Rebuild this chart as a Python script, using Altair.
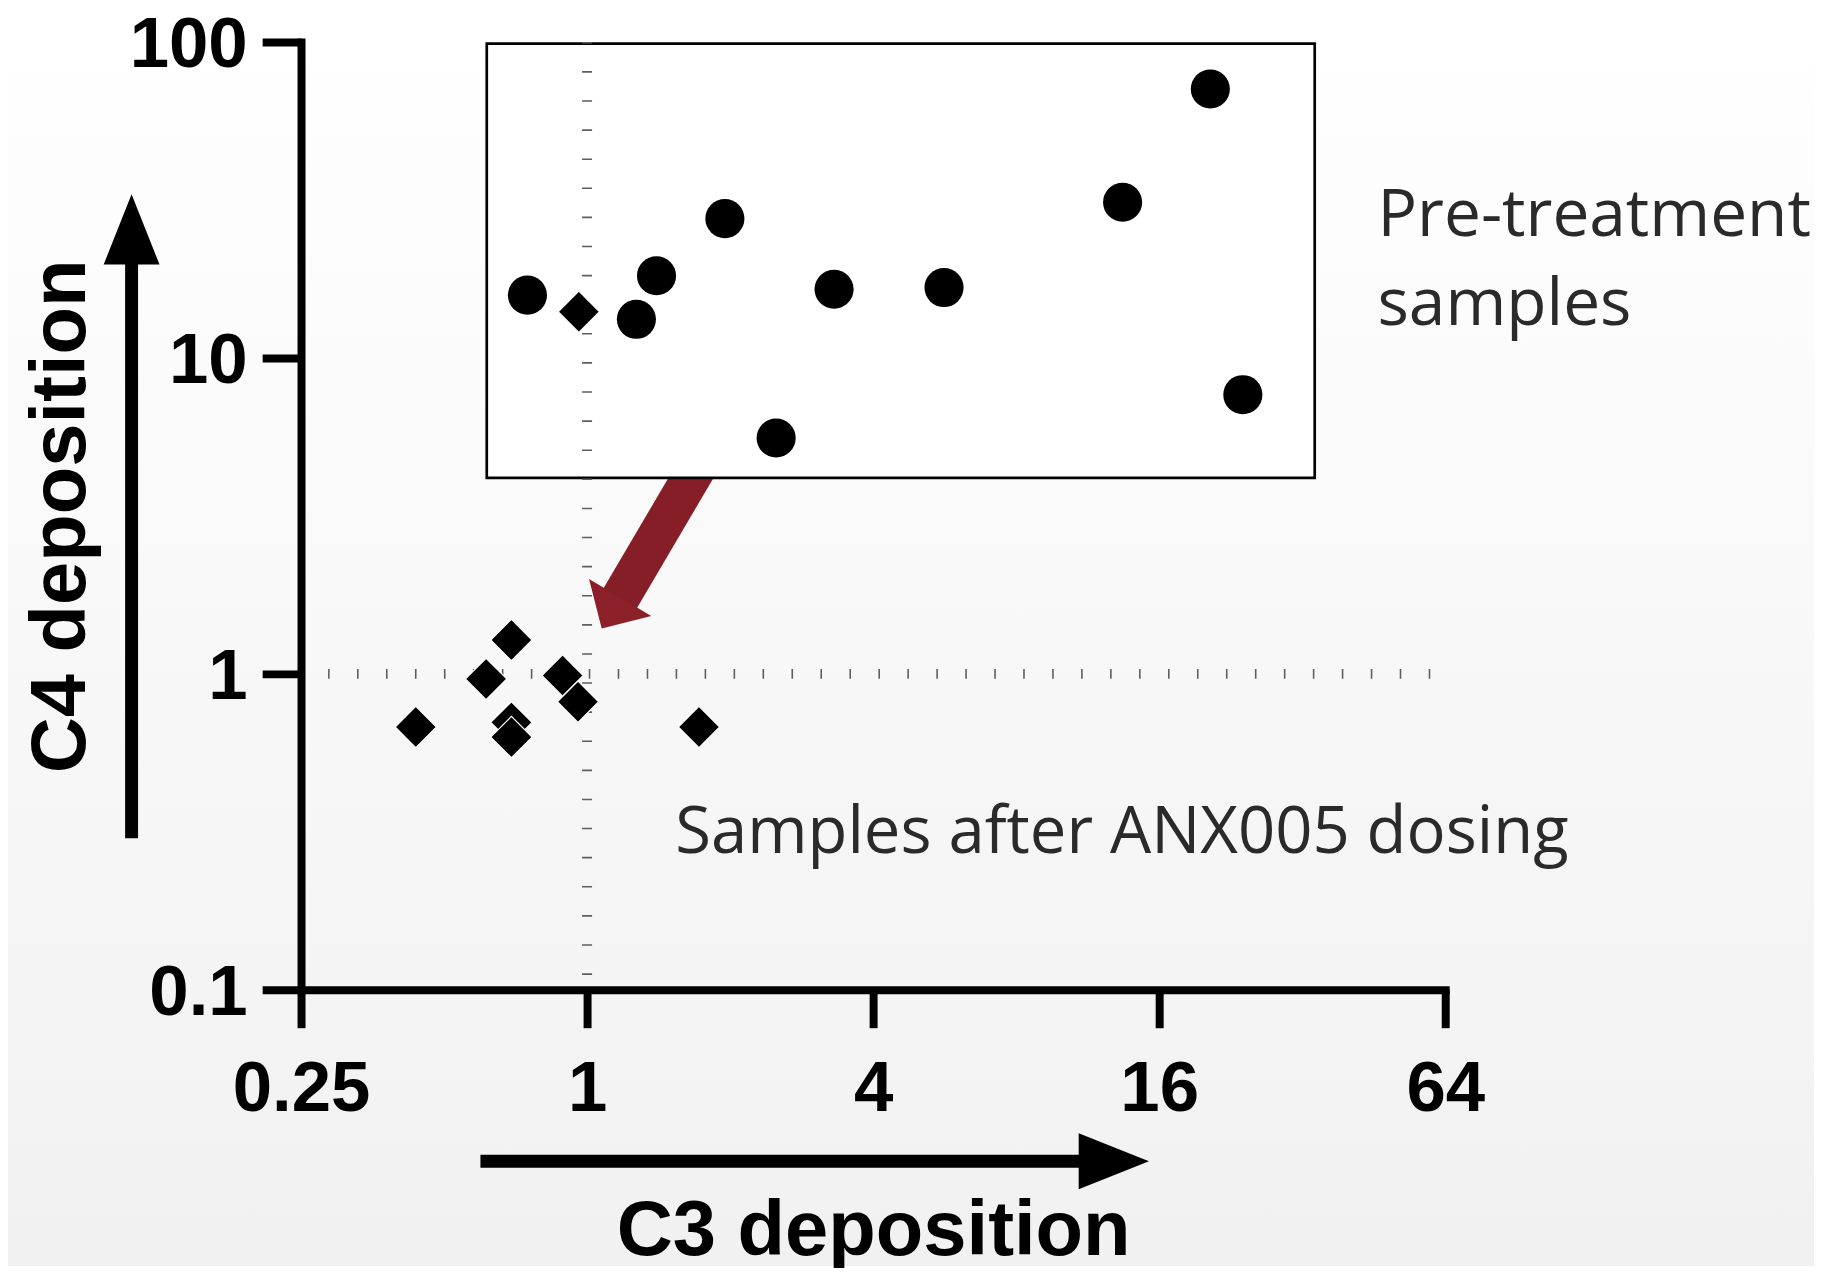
import altair as alt
import pandas as pd

# ---------------- data ----------------
# Pre-treatment samples (circles)
circle_c3 = [0.749, 1.27, 1.40, 1.95, 2.50, 3.31, 5.64, 13.4, 20.5, 24.0]
circle_c4 = [15.8, 13.25, 18.2, 27.6, 5.58, 16.5, 16.7, 31.1, 71.0, 7.65]
# Diamonds (samples after ANX005 dosing, plus one inside the inset box)
diamond_c3 = [0.961, 0.436, 0.613, 0.693, 0.693, 0.693, 0.888, 0.957, 1.72]
diamond_c4 = [14.0, 0.679, 0.964, 1.28, 0.702, 0.631, 0.988, 0.816, 0.679]

x_ticks = [0.25, 1, 4, 16, 64]
y_ticks = [0.1, 1, 10, 100]
x_domain = [0.25, 64]
y_domain = [0.1, 100]

# dotted reference lines at C3 = 1 and C4 = 1
ref_v = {"x": [1], "y": [100], "y2": [0.108]}
ref_h = {"y": [1], "x": [0.285], "x2": [60.1]}

# inset box around pre-treatment samples
box = {"x": [0.615], "x2": [34.0], "y": [98.8], "y2": [4.17]}

# red arrow (shaft start/end and head centre, data coordinates)
arrow_shaft = {"x": [1.738], "y": [4.73], "x2": [1.162], "y2": [1.691]}
arrow_head = {"x": [1.1225], "y": [1.558]}

labels_pre = {"x": [46.1], "y": [24.26], "text": ["Pre-treatment\nsamples"]}
labels_post = {"x": [1.533], "y": [0.2705], "text": ["Samples after ANX005 dosing"]}

W, H = 1148, 951
PAD = {"left": 294, "top": 32, "right": 370, "bottom": 277}

xs = alt.Scale(type="log", base=2, domain=x_domain, nice=False)
ys = alt.Scale(type="log", base=10, domain=y_domain, nice=False)

x_axis = alt.Axis(values=x_ticks, format="~g", zindex=2,
                  tickSize=38, labelPadding=83, labelBaseline="alphabetic",
                  labelFlush=False, labelOverlap=False,
                  titleX=574, titleY=266, titleAlign="center",
                  titleBaseline="alphabetic", titleAngle=0)
y_axis = alt.Axis(values=y_ticks, format="~g", zindex=2,
                  tickSize=39, labelPadding=15, labelBaseline="alphabetic",
                  labelOffset=25, labelFlush=False, labelOverlap=False,
                  titleX=-217, titleY=H / 2, titleAlign="center",
                  titleBaseline="alphabetic", titleAngle=270)


def X(f):
    return alt.X(f, scale=xs, axis=x_axis, title="C3 deposition")


def Y(f):
    return alt.Y(f, scale=ys, axis=y_axis, title="C4 deposition")


one = pd.DataFrame({"k": [0]})

# ---------------- background gradient ----------------
bg = alt.Chart(one).mark_rect(
    fill=alt.LinearGradient(
        gradient="linear",
        stops=[alt.GradientStop(color="#ffffff", offset=0),
               alt.GradientStop(color="#f1f1f1", offset=1)],
        x1=0, x2=0, y1=0, y2=1),
    strokeWidth=0,
).encode(
    x=alt.value(-PAD["left"]), x2=alt.value(W + PAD["right"]),
    y=alt.value(-PAD["top"]), y2=alt.value(H + PAD["bottom"]),
)

# ---------------- red arrow shaft (under the box) ----------------
shaft = alt.Chart(pd.DataFrame(arrow_shaft)).mark_rule(
    strokeWidth=39, color="#851e27", strokeCap="butt"
).encode(x=X("x:Q"), y=Y("y:Q"), x2="x2:Q", y2="y2:Q")

# ---------------- inset box ----------------
inset = alt.Chart(pd.DataFrame(box)).mark_rect(
    fill="#ffffff", stroke="#000000", strokeWidth=2.7
).encode(x=X("x:Q"), x2="x2:Q", y=Y("y:Q"), y2="y2:Q")

# ---------------- dotted reference lines ----------------
vline = alt.Chart(pd.DataFrame(ref_v)).mark_rule(
    strokeWidth=10, strokeDash=[1.6, 27.6], color="#5e5e5e", strokeCap="butt"
).encode(x=X("x:Q"), y=Y("y:Q"), y2="y2:Q")
hline = alt.Chart(pd.DataFrame(ref_h)).mark_rule(
    strokeWidth=10, strokeDash=[1.6, 27.46], color="#5e5e5e", strokeCap="butt"
).encode(y=Y("y:Q"), x=X("x:Q"), x2="x2:Q")

# ---------------- red arrow head ----------------
head = alt.Chart(pd.DataFrame(arrow_head)).mark_point(
    shape="M0,-0.5L1,0.5L-1,0.5Z", size=5271, filled=True,
    color="#8b2029", opacity=1, angle=210.7, strokeWidth=0,
).encode(x=X("x:Q"), y=Y("y:Q"))

# ---------------- data points ----------------
circles = alt.Chart(pd.DataFrame({"C3": circle_c3, "C4": circle_c4})).mark_point(
    shape="circle", size=1540, filled=True, color="#000000", opacity=1, strokeWidth=0,
).encode(x=X("C3:Q"), y=Y("C4:Q"))

diamonds = alt.Chart(pd.DataFrame({"C3": diamond_c3, "C4": diamond_c4})).mark_point(
    shape="diamond", size=1720, filled=True, color="#000000", opacity=1,
    stroke="#ffffff", strokeWidth=1.2,
).encode(x=X("C3:Q"), y=Y("C4:Q"))

# ---------------- annotations ----------------
txt_pre = alt.Chart(pd.DataFrame(labels_pre)).mark_text(
    font="Open Sans", fontSize=66, color="#2a2a2a", align="left",
    baseline="alphabetic", lineBreak="\n", lineHeight=89,
).encode(x=X("x:Q"), y=Y("y:Q"), text="text:N")
txt_post = alt.Chart(pd.DataFrame(labels_post)).mark_text(
    font="Open Sans", fontSize=65.4, color="#2a2a2a", align="left",
    baseline="alphabetic",
).encode(x=X("x:Q"), y=Y("y:Q"), text="text:N")

# ---------------- axis direction arrows (decoration) ----------------
v_shaft = alt.Chart(one).mark_rule(strokeWidth=13, color="#000000", strokeCap="butt").encode(
    x=alt.value(-170), y=alt.value(222), y2=alt.value(799))
v_head = alt.Chart(one).mark_point(
    shape="M0,-1.26L1,1.26L-1,1.26Z", size=3136, filled=True, color="#000000",
    opacity=1, strokeWidth=0).encode(x=alt.value(-170), y=alt.value(188))
h_shaft = alt.Chart(one).mark_rule(strokeWidth=13, color="#000000", strokeCap="butt").encode(
    x=alt.value(180), x2=alt.value(782), y=alt.value(1123))
h_head = alt.Chart(one).mark_point(
    shape="M0,-1.26L1,1.26L-1,1.26Z", size=3136, filled=True, color="#000000",
    opacity=1, strokeWidth=0, angle=90).encode(x=alt.value(815.5), y=alt.value(1123))

chart = alt.layer(
    bg, shaft, inset, vline, hline, head, circles, diamonds, txt_pre, txt_post,
    v_shaft, v_head, h_shaft, h_head,
).properties(
    width=W, height=H, autosize="none", padding=PAD, background="#ffffff",
).configure_view(
    strokeWidth=0,
).configure_axis(
    grid=False,
    domainColor="#000000", domainWidth=8, domainCap="square",
    tickColor="#000000", tickWidth=8,
    labelFont="Liberation Sans", labelFontWeight="bold", labelFontSize=71,
    labelColor="#000000",
    titleFont="Liberation Sans", titleFontWeight="bold", titleFontSize=78,
    titleColor="#000000",
)

chart.save("out.html", embed_options={"renderer": "svg", "actions": False})
